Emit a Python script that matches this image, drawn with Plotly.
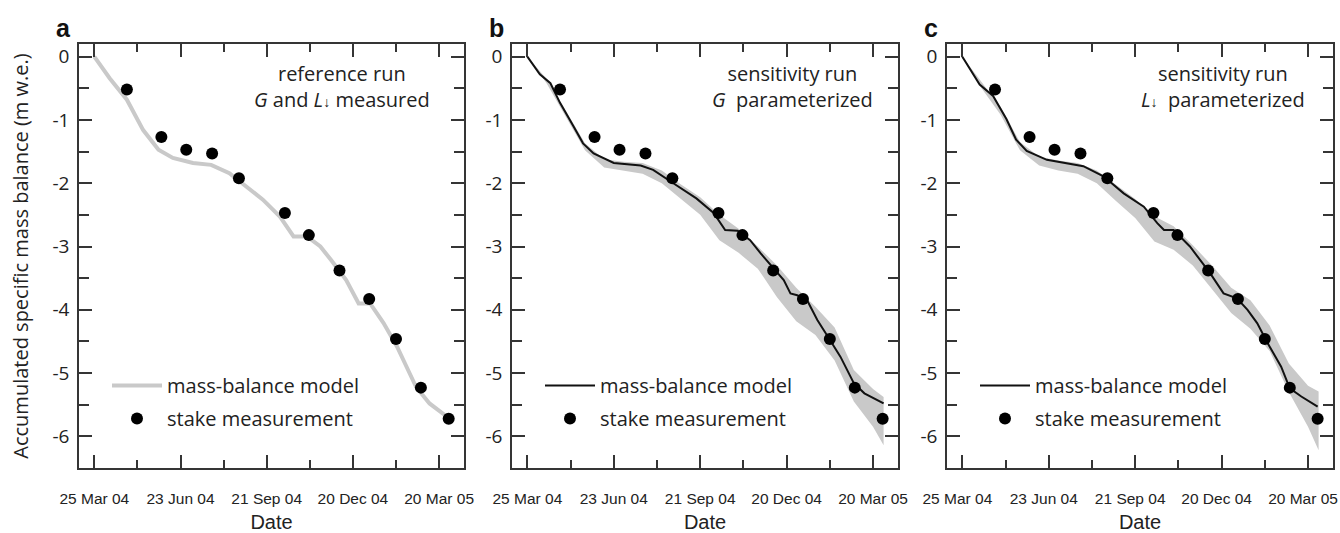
import plotly.graph_objects as go

# ---------------- data ----------------
stake_dates = ["2004-04-28", "2004-06-03", "2004-06-29", "2004-07-26", "2004-08-23",
               "2004-10-10", "2004-11-04", "2004-12-06", "2005-01-06", "2005-02-03",
               "2005-03-01", "2005-03-30"]
stake_mb = [-0.52, -1.27, -1.47, -1.53, -1.92, -2.47, -2.82, -3.38, -3.83, -4.46, -5.23, -5.72]

model_a_dates = ["2004-03-25", "2004-04-10", "2004-04-28", "2004-05-15", "2004-05-31",
                 "2004-06-15", "2004-07-06", "2004-07-25", "2004-08-13", "2004-08-31",
                 "2004-09-17", "2004-10-05", "2004-10-19", "2004-11-02", "2004-11-16",
                 "2004-11-27", "2004-12-13", "2004-12-26", "2005-01-07", "2005-01-21",
                 "2005-02-04", "2005-02-14", "2005-02-24", "2005-03-10", "2005-03-30"]
model_a_mb = [0.0, -0.34, -0.68, -1.16, -1.47, -1.60, -1.68, -1.71, -1.84, -2.05,
              -2.26, -2.53, -2.84, -2.84, -3.00, -3.21, -3.53, -3.90, -3.90, -4.21,
              -4.58, -4.90, -5.22, -5.48, -5.71]

model_b_dates = ["2004-03-25", "2004-04-07", "2004-04-18", "2004-04-28", "2004-05-12",
                 "2004-05-22", "2004-06-02", "2004-06-23", "2004-07-21", "2004-08-03",
                 "2004-08-24", "2004-09-17", "2004-10-05", "2004-10-17", "2004-10-30",
                 "2004-11-12", "2004-11-23", "2004-12-07", "2004-12-17", "2004-12-24",
                 "2004-12-31", "2005-01-11", "2005-01-21", "2005-02-02", "2005-02-14",
                 "2005-02-28", "2005-03-11", "2005-03-31"]
model_b_mb = [0.0, -0.28, -0.42, -0.73, -1.10, -1.37, -1.53, -1.68, -1.72, -1.79,
              -2.00, -2.24, -2.47, -2.74, -2.75, -2.90, -3.11, -3.36, -3.53, -3.74,
              -3.77, -3.87, -4.16, -4.45, -4.74, -5.16, -5.32, -5.48]

model_c_dates = ["2004-03-25", "2004-04-12", "2004-04-26", "2004-05-10", "2004-05-20",
                 "2004-05-31", "2004-06-21", "2004-07-12", "2004-07-29", "2004-08-19",
                 "2004-09-09", "2004-09-30", "2004-10-14", "2004-10-21", "2004-10-31",
                 "2004-11-17", "2004-12-01", "2004-12-08", "2004-12-22", "2005-01-05",
                 "2005-01-16", "2005-01-26", "2005-02-06", "2005-02-20", "2005-03-01",
                 "2005-03-13", "2005-03-30"]
model_c_mb = [0.0, -0.44, -0.62, -0.99, -1.31, -1.49, -1.63, -1.68, -1.73, -1.89,
              -2.16, -2.37, -2.63, -2.74, -2.74, -3.00, -3.28, -3.42, -3.74, -3.82,
              -4.00, -4.21, -4.53, -4.90, -5.24, -5.37, -5.53]

band_dates = ["2004-03-25", "2004-04-14", "2004-05-04", "2004-05-24", "2004-06-13",
              "2004-07-03", "2004-07-23", "2004-08-12", "2004-09-01", "2004-09-21",
              "2004-10-11", "2004-10-31", "2004-11-20", "2004-12-10", "2004-12-30",
              "2005-01-19", "2005-02-08", "2005-02-28", "2005-03-20", "2005-03-31"]
band_b_hi = [0.0, -0.35, -0.85, -1.37, -1.62, -1.66, -1.68, -1.80, -2.02, -2.22,
             -2.50, -2.72, -3.00, -3.30, -3.65, -3.95, -4.28, -4.95, -5.25, -5.38]
band_b_lo = [0.0, -0.42, -0.95, -1.48, -1.75, -1.80, -1.85, -2.00, -2.25, -2.50,
             -2.90, -3.10, -3.35, -3.80, -4.18, -4.40, -4.80, -5.45, -5.85, -6.14]
band_c_hi = [0.0, -0.40, -0.80, -1.35, -1.58, -1.64, -1.68, -1.80, -2.02, -2.25,
             -2.52, -2.68, -2.98, -3.30, -3.65, -3.85, -4.25, -4.85, -5.20, -5.29]
band_c_lo = [0.0, -0.50, -0.92, -1.48, -1.72, -1.80, -1.85, -2.00, -2.28, -2.55,
             -2.92, -3.05, -3.30, -3.68, -4.05, -4.30, -4.65, -5.30, -5.85, -6.22]

y_tick_vals = [0, -1, -2, -3, -4, -5, -6]
y_tick_text = ["0", "-1", "-2", "-3", "-4", "-5", "-6"]
panel_letters = ["a", "b", "c"]
panel_notes = ["reference run<br><i>G</i> and <i>L</i><span style='font-size:14px'>↓</span> measured",
               "sensitivity run<br><i>G</i>  parameterized",
               "sensitivity run<br><i>L</i><span style='font-size:14px'>↓</span>  parameterized"]
legend_names = ["mass-balance model", "stake measurement"]
x_tick0 = "2004-03-25"
x_range = ["2004-03-09", "2005-04-15"]
y_range = [-6.5, 0.2]

# ---------------- styling ----------------
W, H = 1340, 533
BAND = "#c9c9c9"
AX = "#353535"
SANS = "Open Sans"
ARIAL = "Liberation Sans"
DAY = 86400000

domains_px = [(79, 464), (512, 898), (947, 1333)]
label_shift = [0, 0, -5]
y_dom = [1 - 468 / H, 1 - 44 / H]

fig = go.Figure()

models = [(model_a_dates, model_a_mb), (model_b_dates, model_b_mb), (model_c_dates, model_c_mb)]
bands = [None, (band_b_hi, band_b_lo), (band_c_hi, band_c_lo)]

for i in range(3):
    xa = "x" if i == 0 else f"x{i+1}"
    ya = "y" if i == 0 else f"y{i+1}"
    lg = "legend" if i == 0 else f"legend{i+1}"
    if bands[i] is not None:
        hi, lo = bands[i]
        fig.add_trace(go.Scatter(x=band_dates, y=hi, xaxis=xa, yaxis=ya, mode="lines",
                                 line=dict(width=0, color=BAND), showlegend=False,
                                 hoverinfo="skip"))
        fig.add_trace(go.Scatter(x=band_dates, y=lo, xaxis=xa, yaxis=ya, mode="lines",
                                 line=dict(width=0, color=BAND), fill="tonexty",
                                 fillcolor=BAND, showlegend=False, hoverinfo="skip"))
    d, v = models[i]
    if i == 0:
        mline = dict(color=BAND, width=4)
    else:
        mline = dict(color="#111111", width=2)
    fig.add_trace(go.Scatter(x=d, y=v, xaxis=xa, yaxis=ya, mode="lines", line=mline,
                             name=legend_names[0], legend=lg, legendgroup=f"m{i}"))
    fig.add_trace(go.Scatter(x=stake_dates, y=stake_mb, xaxis=xa, yaxis=ya, mode="markers",
                             marker=dict(color="#000000", size=12),
                             name=legend_names[1], legend=lg, legendgroup=f"s{i}"))

layout = dict(width=W, height=H, margin=dict(l=0, r=0, t=0, b=0, autoexpand=False),
              paper_bgcolor="white", plot_bgcolor="white", showlegend=True)

for i in range(3):
    sfx = "" if i == 0 else str(i + 1)
    x0, x1 = domains_px[i]
    layout["xaxis" + sfx] = dict(
        domain=[x0 / W, x1 / W], anchor="y" + sfx, type="date", range=x_range,
        tick0=x_tick0, dtick=90 * DAY, tickformat="%d %b %y",
        ticks="inside", ticklen=13, tickwidth=1.5, tickcolor=AX,
        minor=dict(ticks="inside", ticklen=8, tickwidth=1.5, tickcolor=AX, dtick=45 * DAY, tick0=x_tick0),
        showline=True, linecolor=AX, linewidth=1.5, mirror="ticks",
        showgrid=False, zeroline=False, automargin=False,
        tickfont=dict(family=ARIAL, size=15.5, color="#222"),
        ticklabelstandoff=16, ticklabelshift=label_shift[i], ticklabeloverflow="allow",
        title=dict(text="Date", font=dict(family=ARIAL, size=20, color="#222"), standoff=15),
    )
    ydict = dict(
        domain=y_dom, anchor="x" + sfx, range=y_range,
        tickmode="array", tickvals=y_tick_vals, ticktext=y_tick_text,
        ticks="inside", ticklen=13, tickwidth=1.5, tickcolor=AX,
        minor=dict(ticks="inside", ticklen=10, tickwidth=1.5, tickcolor=AX,
                   tickmode="linear", tick0=0, dtick=0.5),
        showline=True, linecolor=AX, linewidth=1.5, mirror="ticks",
        showgrid=False, zeroline=False, automargin=False,
        tickfont=dict(family=SANS, size=19, color="#222"),
        ticklabelstandoff=4,
    )
    if i == 0:
        ydict["title"] = dict(text="Accumulated specific mass balance (m w.e.)",
                              font=dict(family=SANS, size=20, color="#222"), standoff=18)
    layout["yaxis" + sfx] = ydict

    layout["legend" if i == 0 else f"legend{i+1}"] = dict(
        x=(x0 + 28) / W, y=1 - 366 / H, xanchor="left", yanchor="top",
        bgcolor="rgba(0,0,0,0)", font=dict(family=SANS, size=20, color="#222"),
        itemwidth=50, tracegroupgap=4, traceorder="grouped",
    )

fig.update_layout(**layout)

note_cx = [342, 792, 1223]
for i in range(3):
    x0, _ = domains_px[i]
    fig.add_annotation(text=f"<b>{panel_letters[i]}</b>", xref="paper", yref="paper",
                       x=(x0 - 16) / W, y=1 - 28 / H, xanchor="center", yanchor="middle",
                       showarrow=False, font=dict(family=ARIAL, size=25, color="#111"))
    fig.add_annotation(text=panel_notes[i], xref="paper", yref="paper",
                       x=note_cx[i] / W, y=1 - 87 / H, xanchor="center", yanchor="middle",
                       align="center", showarrow=False,
                       font=dict(family=SANS, size=20, color="#222"))

fig.write_html("out.html", config={"displayModeBar": False},
               post_script="document.body.style.margin='0';")
